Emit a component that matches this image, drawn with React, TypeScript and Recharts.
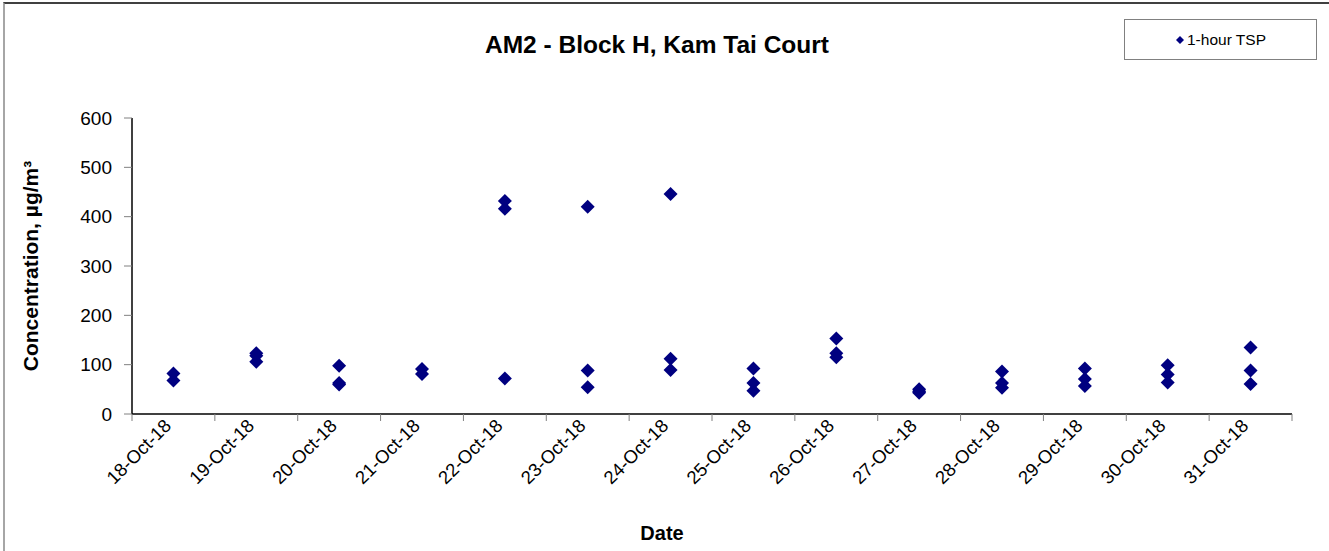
import { ScatterChart, Scatter, XAxis, YAxis } from 'recharts'

// dates on the x axis (day of month, October 2018)
const days = [18, 19, 20, 21, 22, 23, 24, 25, 26, 27, 28, 29, 30, 31]

// three 1-hour TSP readings per day (null where only two were taken)
const readingA = [82, 123, 98, 91, 432, 420, 446, 92, 153, 50, 86, 92, 99, 135]
const readingB = [68, 118, 63, 81, 416, 88, 112, 63, 123, 46, 63, 71, 80, 88]
const readingC = [null, 106, 60, null, 72, 54, 89, 47, 115, 43, 53, 57, 64, 61]

const yTicks = [0, 100, 200, 300, 400, 500, 600]

const points = days.flatMap((day, i) =>
    [readingA[i], readingB[i], readingC[i]]
        .filter((v): v is number => v !== null)
        .map(value => ({ day, value }))
)

// tick marks sit on the day boundaries, labels in the middle of each day
const boundaryTicks = [...days.map(d => d - 0.5), days[days.length - 1] + 0.5]

const FONT = '"Liberation Sans", Arial, sans-serif'
const NAVY = '#000080'
const HALF_DAY = 41.4

function DateTick(props: any) {
    const { x, payload } = props
    const day = payload.value + 0.5
    if (!days.includes(day)) return null
    const ax = x + HALF_DAY - 1
    const ay = 427
    return (
        <text
            x={ax}
            y={ay}
            textAnchor="end"
            fontSize={18.5}
            fontFamily={FONT}
            fill="#000"
            transform={`rotate(-45 ${ax} ${ay})`}
        >
            {`${day}-Oct-18`}
        </text>
    )
}

function Diamond(props: any) {
    const { cx, cy } = props
    const r = 7
    return <path d={`M${cx},${cy - r}L${cx + r},${cy}L${cx},${cy + r}L${cx - r},${cy}Z`} fill={NAVY} />
}

export default function App() {
    return (
        <div style={{ position: 'absolute', left: 0, top: 0, width: 1329, height: 551, background: '#fff', fontFamily: FONT }}>
            <div style={{ position: 'absolute', left: 3, top: 2, right: 0, bottom: 0, borderLeft: '2px solid #a6a6a6', borderTop: '2px solid #404040' }} />
            <div style={{ position: 'absolute', left: 407, top: 45, width: 500, textAlign: 'center', transform: 'translateY(-50%)', fontSize: 24.5, fontWeight: 'bold' }}>
                AM2 - Block H, Kam Tai Court
            </div>
            <div style={{ position: 'absolute', left: 1124, top: 19, width: 191, height: 39, border: '1px solid #808080', display: 'flex', alignItems: 'center', justifyContent: 'center', fontSize: 15.5 }}>
                <svg width={10} height={10} style={{ marginRight: 2 }}>
                    <path d="M5,1L9,5L5,9L1,5Z" fill={NAVY} />
                </svg>
                1-hour TSP
            </div>
            <div style={{ position: 'absolute', left: 31, top: 266, transform: 'translate(-50%, -50%) rotate(-90deg)', whiteSpace: 'nowrap', fontSize: 21, fontWeight: 'bold' }}>
                Concentration, µg/m³
            </div>
            <div style={{ position: 'absolute', left: 662, top: 533, transform: 'translate(-50%, -50%)', fontSize: 20, fontWeight: 'bold' }}>
                Date
            </div>
            <ScatterChart width={1329} height={551} margin={{ top: 118, right: 37, bottom: 0, left: 0 }} style={{ position: 'absolute', left: 0, top: 0 }}>
                <XAxis
                    type="number"
                    dataKey="day"
                    domain={[boundaryTicks[0], boundaryTicks[boundaryTicks.length - 1]]}
                    ticks={boundaryTicks}
                    interval={0}
                    height={137}
                    tickSize={7}
                    tickLine={{ stroke: '#808080' }}
                    axisLine={{ stroke: '#000', strokeWidth: 1.5 }}
                    tick={<DateTick />}
                />
                <YAxis
                    type="number"
                    dataKey="value"
                    domain={[0, 600]}
                    ticks={yTicks}
                    interval={0}
                    width={132}
                    tickSize={8}
                    tickMargin={12}
                    tickLine={{ stroke: '#808080' }}
                    axisLine={{ stroke: '#000', strokeWidth: 1.5 }}
                    tick={{ fill: '#000', fontSize: 19, fontFamily: FONT }}
                />
                <Scatter data={points} shape={<Diamond />} isAnimationActive={false} />
            </ScatterChart>
        </div>
    )
}
